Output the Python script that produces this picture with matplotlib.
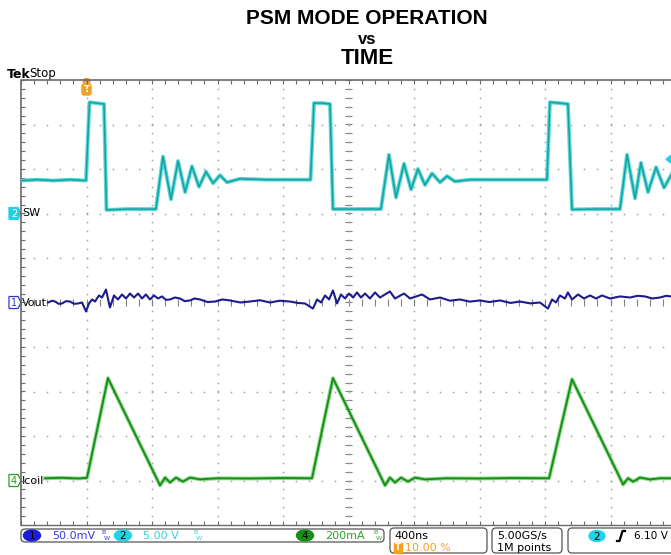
import numpy as np
import matplotlib.pyplot as plt
from matplotlib.patches import FancyBboxPatch, Ellipse, Polygon, Rectangle

# scope settings
t_div = 400                  # ns/div
t_start = -400               # trigger at 10 % of a 10 div record
sw_scale, sw_offset = 5.0, 2.0         # V/div, div above centre
vout_scale, vout_offset = 50.0, 0.0    # mV/div
icoil_scale, icoil_offset = 200.0, -4.0  # mA/div
trig_level = 6.10

# ch2 SW node (ns, V)
sw_t = [-400, -300, -200, -100, -3, 18, 60, 107, 122, 250, 424, 467, 516, 559, 602,
        644, 687, 730, 773, 815, 858, 938, 1100, 1250, 1368, 1389, 1440, 1487, 1505,
        1650, 1798, 1847, 1890, 1939, 1982, 2024, 2067, 2110, 2159, 2202, 2250, 2342,
        2500, 2650, 2812, 2830, 2890, 2940, 2965, 3100, 3258, 3301, 3350, 3386, 3429,
        3478, 3527, 3576]
sw_v = [3.7, 3.8, 3.7, 3.8, 3.7, 12.5, 12.4, 12.3, 0.4, 0.5, 0.5, 6.4, 1.6, 5.9, 2.4,
        5.3, 3.0, 4.7, 3.4, 4.3, 3.5, 3.9, 3.8, 3.8, 3.8, 12.4, 12.4, 12.3, 0.5,
        0.5, 0.5, 6.6, 1.8, 5.6, 2.7, 5.0, 3.2, 4.5, 3.5, 4.2, 3.6, 3.8,
        3.8, 3.8, 3.8, 12.5, 12.4, 12.3, 0.45, 0.5, 0.5, 6.6, 1.7, 5.7, 2.4,
        5.2, 2.9, 4.5]

# ch1 Vout ripple (ns, mV)
vout_t = [-235, -210, -192, -170, -150, -125, -101, -75, -52, -27, -3, 15, 34, 52, 76, 95,
          119, 143, 168, 192, 217, 241, 266, 290, 315, 339, 363, 388, 412, 437, 461, 485,
          510, 540, 571, 600, 632, 660, 693, 740, 785, 830, 876, 940, 998, 1060, 1121,
          1180, 1243, 1290, 1334, 1383, 1408, 1432, 1457, 1481, 1505, 1530, 1554, 1579,
          1603, 1628, 1652, 1676, 1701, 1731, 1762, 1792, 1853, 1884, 1939, 1976, 2049,
          2098, 2159, 2220, 2281, 2340, 2403, 2460, 2525, 2590, 2647, 2710, 2769, 2818,
          2843, 2867, 2891, 2922, 2940, 2965, 3002, 3038, 3075, 3112, 3148, 3197, 3258,
          3319, 3365, 3411, 3455, 3502, 3540, 3570]
vout_mv = [0, 2.0, 1.1, -1.5, -1.1, 1.5, 1.1, -1.5, -1.1, 0, -10.1, -1.1, 3.4, 1.1, 7.9, 5.6,
           14.6, -5.6, 7.9, 3.4, 9.0, 4.5, 10.1, 5.6, 10.1, 4.5, 9.0, 3.4, 7.9, 4.5, 6.8, 3.0,
           3.4, 5.6, 4.5, 1.5, 2.3, 4.5, 3.4, 0.5, 1.1, 3.4, 2.3, 0, 1.1, 2.5, 0,
           2.0, 1.1, -0.5, -1.1, -6.8, 3.4, 0, 7.9, 3.4, 13.5, -1.1, 9.0, 4.5,
           10.1, 5.6, 11.3, 5.6, 10.1, 4.5, 11.3, 5.6, 12.4, 4.5, 10.1, 4.5, 9.0,
           3.4, 5.6, 2.0, 3.4, 1.0, 2.3, 0.5, 2.3, -0.5, 1.1, -1.0, 0, -6.8,
           3.4, 0, 7.9, 4.5, 11.3, 3.4, 9.0, 4.5, 7.9, 4.5, 7.9, 4.5, 6.8,
           5.6, 7.5, 6.8, 4.5, 5.6, 7.5, 6.8]

# ch4 inductor current (ns, mA)
ic_t = [-253, -150, -50, 3, 131, 449, 480, 510, 547, 589, 632, 693, 800, 1000, 1200,
        1377, 1505, 1823, 1853, 1884, 1921, 1963, 2006, 2067, 2200, 2400, 2600, 2825,
        2965, 3277, 3307, 3338, 3380, 3441, 3502, 3570]
ic_ma = [10, 12, 9, 12, 460, -22, 13, -9, 13, -5, 13, 5, 10, 9, 11,
         10, 460, -22, 13, -9, 13, -5, 13, 5, 10, 9, 11, 10,
         455, -18, 10, -5, 13, 5, 10, 10]

W, H = 671, 555
gx0, gx1, gy0, gy1 = 21, 676, 80, 525   # graticule in pixels
px_div = (gy1 - gy0) / 10

fig = plt.figure(figsize=(W / 100, H / 100), dpi=100)

# overlay in pixel coordinates for the scope frame
ov = fig.add_axes([0, 0, 1, 1])
ov.set_xlim(0, W)
ov.set_ylim(H, 0)
ov.axis('off')

ax = fig.add_axes([gx0 / W, 1 - gy1 / H, (gx1 - gx0) / W, (gy1 - gy0) / H])
ax.set_xlim(t_start, t_start + 10 * t_div)
ax.set_ylim(-5, 5)
ax.axis('off')

grid_c = '#a0a0a0'
minor_x = np.arange(t_start, t_start + 10 * t_div + 1, t_div / 5)
minor_y = np.arange(-5, 5.01, 0.2)
for k in range(1, 10):
    if k == 5:
        continue
    xt = t_start + k * t_div
    ax.plot(np.full_like(minor_y, xt), minor_y, ls='none', marker='s', ms=1.1,
            mew=0, color=grid_c)
for j in range(-4, 5):
    if j == 0:
        continue
    ax.plot(minor_x, np.full(len(minor_x), float(j)), ls='none', marker='s', ms=1.1,
            mew=0, color=grid_c)
# centre lines with ticks
xc = t_start + 5 * t_div
ax.hlines(minor_y, xc - 20, xc + 20, color='#808080', lw=0.8)
ax.vlines(minor_x, -0.07, 0.07, color='#808080', lw=0.8)
ax.plot([xc] * len(minor_y), minor_y, ls='none', marker='s', ms=1.1, mew=0, color=grid_c)
# border with inward ticks
ax.plot([t_start, t_start, t_start + 10 * t_div], [-5, 5, 5], color='#6a6a6a', lw=1.2,
        clip_on=False)
ax.plot([t_start, t_start + 10 * t_div], [-5, -5], color='#6a6a6a', lw=1.0, clip_on=False)
ax.vlines(minor_x, 4.9, 5, color='#6a6a6a', lw=0.8)
ax.vlines(minor_x, -5, -4.9, color='#6a6a6a', lw=0.8)
ax.hlines(minor_y, t_start, t_start + 22, color='#6a6a6a', lw=0.8)

# traces
ax.plot(ic_t, np.array(ic_ma) / icoil_scale + icoil_offset, color='#3cc03c', lw=2.8,
        alpha=0.6, solid_joinstyle='round')
ax.plot(ic_t, np.array(ic_ma) / icoil_scale + icoil_offset, color='#168c16', lw=1.3)
ax.plot(vout_t, np.array(vout_mv) / vout_scale + vout_offset, color='#1c1c8e', lw=1.5)
ax.plot(sw_t, np.array(sw_v) / sw_scale + sw_offset, color='#5cd8d8', lw=2.8,
        solid_joinstyle='round')
ax.plot(sw_t, np.array(sw_v) / sw_scale + sw_offset, color='#17a0a0', lw=1.1)


def ypx(div):
    return (gy0 + gy1) / 2 - div * px_div


# channel ground markers and labels
def ch_marker(num, div, face, edge, txt_c, label):
    y = ypx(div)
    ov.add_patch(Polygon([(9, y - 6), (18, y - 6), (21, y), (18, y + 6), (9, y + 6)],
                         closed=True, facecolor=face, edgecolor=edge, lw=0.9))
    ov.text(14, y + 0.5, num, color=txt_c, fontsize=7, ha='center', va='center')
    ov.text(22, y, label, color='black', fontsize=8, ha='left', va='center')


ch_marker('2', sw_offset, '#22d0e6', '#22d0e6', 'white', 'SW')
ch_marker('1', vout_offset, 'white', '#3434d4', '#3434d4', 'Vout')
ch_marker('4', icoil_offset, 'white', '#22a022', '#22a022', 'Icoil')

# trigger position marker
tx = gx0 + (0 - t_start) / t_div * (gx1 - gx0) / 10
ov.add_patch(Ellipse((tx, 81), 7, 5, color='#f0a028'))
ov.add_patch(FancyBboxPatch((tx - 4.5, 84), 9, 11, boxstyle='round,pad=0,rounding_size=2',
                            facecolor='#f0a028', edgecolor='#f0a028'))
ov.text(tx, 90, 'T', color='white', fontsize=6.5, fontweight='bold', ha='center', va='center')

# trigger level marker on right edge
ty = ypx(sw_offset + trig_level / sw_scale)
ov.add_patch(Polygon([(671, ty - 4), (666, ty), (671, ty + 4)], closed=True,
                     color='#22d0e6'))

# header
ov.text(7, 74, 'Tek', fontsize=9, fontweight='bold', va='center')
ov.text(29, 74, 'Stop', fontsize=8.5, va='center')
ov.text(367, 18, 'PSM MODE OPERATION', fontsize=15, fontweight='bold',
        family='Liberation Sans', ha='center', va='center')
ov.text(367, 39, 'vs', fontsize=12, fontweight='bold', family='Liberation Sans',
        ha='center', va='center')
ov.text(367, 58, 'TIME', fontsize=16, fontweight='bold', family='Liberation Sans',
        ha='center', va='center')

# status bar
box_kw = dict(boxstyle='round,pad=0,rounding_size=4', facecolor='white',
              edgecolor='#555555', lw=0.9)
ov.add_patch(FancyBboxPatch((21, 529), 363, 13, **box_kw))
ov.add_patch(FancyBboxPatch((390, 528), 97, 25, **box_kw))
ov.add_patch(FancyBboxPatch((492, 528), 70, 25, **box_kw))
ov.add_patch(FancyBboxPatch((568, 528), 120, 25, **box_kw))

fs = 8
channels = [('1', 32, '#1a1ae0', '50.0mV', 52, '#3a3ae0', 104),
            ('2', 123, '#22d3e6', '5.00 V', 143, '#35d0e2', 196),
            ('4', 305, '#129012', '200mA', 325, '#2aa82a', 376)]
for num, cx, oval_c, txt, tx0, txt_c, bwx in channels:
    ov.add_patch(Ellipse((cx, 535.5), 17, 11, color=oval_c))
    ov.text(cx, 536, num, fontsize=7.5, ha='center', va='center', color='black')
    ov.text(tx0, 536, txt, fontsize=fs, ha='left', va='center', color=txt_c)
    ov.text(bwx, 533, 'B', fontsize=4.5, ha='center', va='center', color=txt_c)
    ov.text(bwx + 3, 538, 'W', fontsize=4.5, ha='center', va='center', color=txt_c)

ov.text(394, 536, '400ns', fontsize=fs, va='center')
ov.add_patch(Rectangle((393.5, 543), 8, 10, color='#f5a020'))
ov.text(397.5, 548, 'T', fontsize=6, color='white', fontweight='bold', ha='center',
        va='center')
ov.text(405, 548, '10.00 %', fontsize=fs, va='center', color='#f5a020')
ov.text(497, 536, '5.00GS/s', fontsize=fs, va='center')
ov.text(497, 548, '1M points', fontsize=fs, va='center')
ov.add_patch(Ellipse((597, 536), 16, 11, color='#22d3e6'))
ov.text(597, 536.5, '2', fontsize=7.5, ha='center', va='center')
ov.plot([617, 619.5, 622.5, 625], [541, 541, 531, 531], color='black', lw=1.6)
ov.text(634, 536, '6.10 V', fontsize=7.6, va='center')

fig.savefig('out.png', dpi=100)
